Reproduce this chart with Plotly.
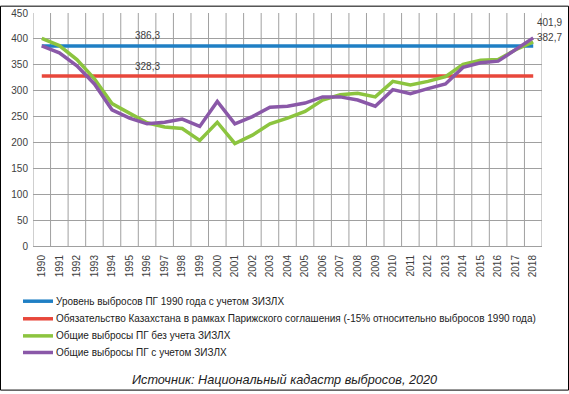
import plotly.graph_objects as go

years = list(range(1990, 2019))
year_labels = [str(y) for y in years]
level_1990 = [386.3] * len(years)
paris_target = [328.3] * len(years)
total_no_lulucf = [401, 387, 360, 323, 275, 257, 238, 230, 227, 204,
                   239, 198, 214, 236, 247, 260, 282, 292, 295, 288,
                   318, 311, 318, 327, 351, 359, 360, 379, 394]
total_lulucf = [386.3, 373, 348, 313, 263, 247, 236, 239, 245, 231,
                279, 236, 250, 268, 270, 276, 288, 288, 282, 270,
                302, 294, 304, 313, 345, 354, 357, 379, 401.9]
names = ["Уровень выбросов ПГ 1990 года с учетом ЗИЗЛХ",
         "Обязательство Казахстана в рамках Парижского соглашения (-15% относительно выбросов 1990 года)",
         "Общие выбросы ПГ без учета ЗИЗЛХ",
         "Общие выбросы ПГ с учетом ЗИЗЛХ"]
colors = ["#1f7fc4", "#e8473b", "#8cc43f", "#8a58a8"]

W, H = 569, 394
L, R, T, B = 33, 27, 7.5, 148
pw, ph = W - L - R, H - T - B

def px_x(x):
    return (x - L) / pw

def px_y(y):
    return (H - B - y) / ph

font_family = "Liberation Sans, Arial, sans-serif"

fig = go.Figure()
for vals, name, col in zip([level_1990, paris_target, total_no_lulucf, total_lulucf], names, colors):
    fig.add_trace(go.Scatter(x=years, y=vals, mode="lines", name=name, showlegend=False,
                             line=dict(color=col, width=3.5), hoverinfo="skip"))

# value labels
fig.add_annotation(x=1996, y=386.3, text="386,3", showarrow=False, yshift=10,
                   font=dict(size=10, color="#404040", family=font_family))
fig.add_annotation(x=1996, y=328.3, text="328,3", showarrow=False, yshift=10,
                   font=dict(size=10, color="#404040", family=font_family))
fig.add_annotation(x=2018, y=401.9, text="401,9", showarrow=False, xanchor="left",
                   xshift=2, yshift=15, font=dict(size=10, color="#404040", family=font_family))
fig.add_annotation(x=2018, y=382.7, text="382,7", showarrow=False, xanchor="left",
                   xshift=2, yshift=10, font=dict(size=10, color="#404040", family=font_family))

# manual legend
legend_ys = [302.5, 320.5, 338, 355]
for name, col, ly in zip(names, colors, legend_ys):
    fig.add_shape(type="line", xref="paper", yref="paper", x0=px_x(23), x1=px_x(53),
                  y0=px_y(ly), y1=px_y(ly), line=dict(color=col, width=3.5))
    fig.add_annotation(xref="paper", yref="paper", x=px_x(54), y=px_y(ly), text=name,
                       showarrow=False, xanchor="left", yanchor="middle",
                       font=dict(size=10, color="#222222", family=font_family))

fig.add_annotation(xref="paper", yref="paper", x=px_x(284), y=px_y(383),
                   text="<i>Источник: Национальный кадастр выбросов, 2020</i>",
                   showarrow=False, yanchor="middle",
                   font=dict(size=12.7, color="#222222", family=font_family))

# outer frame
fig.add_shape(type="rect", xref="paper", yref="paper",
              x0=px_x(0.5), x1=px_x(W - 0.5), y0=px_y(H - 0.5), y1=px_y(0.5),
              line=dict(color="black", width=1))

# vertical gridlines at category boundaries
for i in range(len(years) + 1):
    xb = years[0] - 0.5 + i
    fig.add_shape(type="line", xref="x", yref="paper", x0=xb, x1=xb, y0=0, y1=1,
                  line=dict(color="#a0a0a0", width=1), layer="below")

fig.update_layout(
    width=W, height=H,
    margin=dict(l=L, r=R, t=T, b=B),
    paper_bgcolor="white", plot_bgcolor="white",
    font=dict(family=font_family, size=10, color="#404040"),
    showlegend=False,
    xaxis=dict(range=[years[0] - 0.5, years[-1] + 0.5], tickmode="array",
               tickvals=years, ticktext=year_labels, tickangle=-90, showgrid=False,
               zeroline=False, showline=False, ticks="", ticklabelstandoff=6,
               tickfont=dict(size=10, color="#404040")),
    yaxis=dict(range=[0, 450], dtick=50, showgrid=True, gridcolor="#a0a0a0", gridwidth=1,
               zeroline=True, zerolinecolor="#a0a0a0", zerolinewidth=1,
               showline=False, ticks="", ticklabelstandoff=4,
               tickfont=dict(size=10, color="#404040")),
)

fig.write_html("out.html", config={"displayModeBar": False},
               post_script="document.body.style.margin='0';")
